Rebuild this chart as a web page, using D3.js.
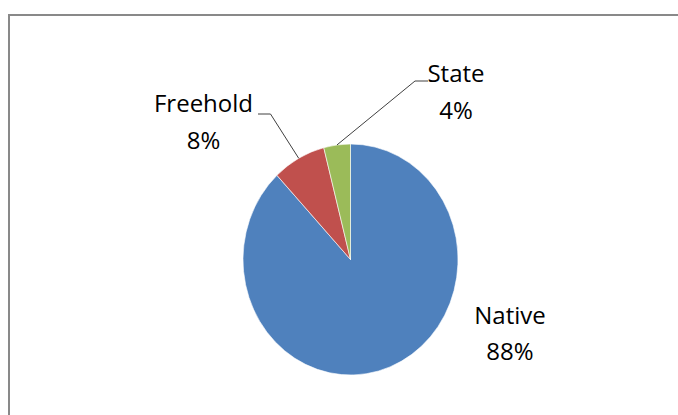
<!DOCTYPE html>
<html>
<head>
<meta charset="utf-8">
<script src="https://cdn.jsdelivr.net/npm/d3@7"></script>
<style>
  html, body { margin: 0; padding: 0; background: #fff; }
  svg { display: block; }
  text { font-family: "Open Sans", "Liberation Sans", sans-serif; fill: #000; }
</style>
</head>
<body>
<svg id="chart" width="678" height="415"></svg>
<script>
// ---- data ----
const categories = ["Native", "Freehold", "State"];
const values = [88, 8, 4];
const colors = ["#4F81BD", "#C0504D", "#9BBB59"];
const percentLabels = ["88%", "8%", "4%"];

// ---- layout ----
const W = 678, H = 415;
const cx = 350.5, cy = 259.5, rx = 107.5, ry = 115.5;
const svg = d3.select("#chart");

// outer frame
svg.append("rect")
  .attr("x", 9).attr("y", 15)
  .attr("width", 720).attr("height", 460)
  .attr("fill", "none")
  .attr("stroke", "#898989")
  .attr("stroke-width", 2);

const pie = d3.pie().sort(null).value(d => d)
  .startAngle(0).endAngle(2 * Math.PI);
const arcs = pie(values);
const arc = d3.arc().innerRadius(0).outerRadius(rx);

const g = svg.append("g")
  .attr("transform", `translate(${cx},${cy}) scale(1,${ry / rx})`);

g.selectAll("path")
  .data(arcs)
  .enter().append("path")
  .attr("d", arc)
  .attr("fill", (d, i) => colors[i])
  .attr("stroke", "#ffffff")
  .attr("stroke-width", 0.6)
  .attr("vector-effect", "non-scaling-stroke");

// label placement (layout)
const labelPos = [
  { x: 510, y: 323.5, leader: null },
  { x: 203.5, y: 112, leader: { ex: 270.5, ey: 114, hx: 258 } },
  { x: 456, y: 82, leader: { ex: 415, ey: 81, hx: 428 } }
];

function outerPoint(d) {
  const a = (d.startAngle + d.endAngle) / 2;
  return [cx + rx * Math.sin(a), cy - ry * Math.cos(a)];
}

arcs.forEach((d, i) => {
  const p = labelPos[i];
  if (p.leader) {
    const [ax, ay] = outerPoint(d);
    svg.append("polyline")
      .attr("points", `${ax},${ay} ${p.leader.ex},${p.leader.ey} ${p.leader.hx},${p.leader.ey}`)
      .attr("fill", "none")
      .attr("stroke", "#404040")
      .attr("stroke-width", 1);
  }
  const t = svg.append("text")
    .attr("text-anchor", "middle")
    .attr("font-size", 24);
  t.append("tspan").attr("x", p.x).attr("y", p.y).text(categories[i]);
  t.append("tspan").attr("x", p.x).attr("y", p.y + 36.5).text(percentLabels[i]);
});
</script>
</body>
</html>
